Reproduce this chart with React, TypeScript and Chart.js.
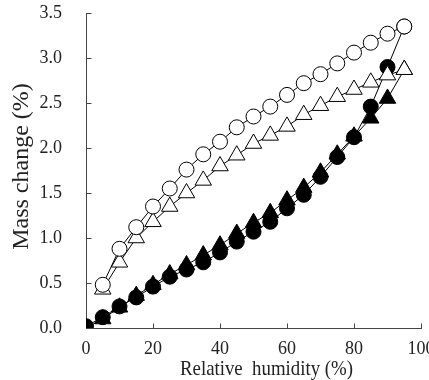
import React, { useEffect, useRef } from "react";
import { Chart, registerables, LinearScale } from "chart.js";

Chart.register(...registerables);

// ---- data ----
const rhSorption = [0, 5, 10, 15, 20, 25, 30, 35, 40, 45, 50, 55, 60, 65, 70, 75, 80, 85, 90, 95];
const filledCircles = [0.02, 0.12, 0.24, 0.34, 0.46, 0.57, 0.65, 0.73, 0.84, 0.96, 1.07, 1.18, 1.33, 1.48, 1.68, 1.9, 2.12, 2.46, 2.9, 3.35];
const filledTriangles = [0.0, 0.1, 0.23, 0.36, 0.48, 0.6, 0.7, 0.81, 0.92, 1.05, 1.17, 1.28, 1.42, 1.56, 1.73, 1.93, 2.13, 2.33, 2.55, 2.87];
const rhDesorption = [5, 10, 15, 20, 25, 30, 35, 40, 45, 50, 55, 60, 65, 70, 75, 80, 85, 90, 95];
const openCircles = [0.48, 0.88, 1.12, 1.35, 1.55, 1.76, 1.93, 2.07, 2.23, 2.35, 2.46, 2.59, 2.72, 2.82, 2.94, 3.06, 3.17, 3.27, 3.35];
const openTriangles = [0.43, 0.73, 1.0, 1.18, 1.35, 1.5, 1.64, 1.8, 1.92, 2.05, 2.14, 2.24, 2.37, 2.47, 2.57, 2.65, 2.73, 2.81, 2.87];
const xTicks = [0, 20, 40, 60, 80, 100];
const yTicks = [0, 0.5, 1.0, 1.5, 2.0, 2.5, 3.0, 3.5];
const xTitle = "Relative  humidity (%)";
const yTitle = "Mass change (%)";

const FONT = "'Liberation Serif', 'Times New Roman', serif";
const AXIS_COLOR = "#444";
const TEXT_COLOR = "#222";

class StyledLinearScale extends (LinearScale as any) {
  static id = "styledLinear";
  static defaults = (LinearScale as any).defaults;
  drawTitle() {
    const self = this as any;
    const ctx = self.ctx as CanvasRenderingContext2D;
    ctx.save();
    if (self.id === "y") {
      ctx.translate(0, -4);
    } else {
      // condense the x title horizontally to the reference's width, shift right
      ctx.font = `21px ${FONT}`;
      const w = ctx.measureText(xTitle).width;
      const sx = Math.min(1, 173 / w);
      const cx = (self.left + self.right) / 2;
      ctx.translate(cx + 13, 2);
      ctx.scale(sx, 1);
      ctx.translate(-cx, 0);
    }
    super.drawTitle();
    ctx.restore();
  }
}
Chart.register(StyledLinearScale as any);

const innerTicks = {
  id: "innerTicks",
  beforeDatasetsDraw(chart: any) {
    const { ctx, scales } = chart;
    const x = scales.x;
    const y = scales.y;
    ctx.save();
    ctx.strokeStyle = AXIS_COLOR;
    ctx.lineWidth = 1;
    ctx.beginPath();
    const left = Math.round(x.left) + 0.5;
    const bottom = Math.round(y.bottom) + 0.5;
    yTicks.forEach((v) => {
      const py = Math.round(y.getPixelForValue(v)) + 0.5;
      ctx.moveTo(left, py);
      ctx.lineTo(left + 5, py);
    });
    xTicks.forEach((v) => {
      const px = Math.round(x.getPixelForValue(v)) + 0.5;
      ctx.moveTo(px, bottom);
      ctx.lineTo(px, bottom - 5);
    });
    ctx.stroke();
    ctx.restore();
  },
};

export default function App() {
  const ref = useRef<HTMLCanvasElement>(null);
  useEffect(() => {
    document.body.style.margin = "0";
    const toXY = (xs: number[], ys: number[]) => xs.map((x, i) => ({ x, y: ys[i] }));
    const chart = new Chart(ref.current!, {
      type: "line",
      data: {
        datasets: [
          {
            label: "open circles",
            data: toXY(rhDesorption, openCircles),
            borderColor: "#000",
            borderWidth: 1,
            pointStyle: "circle",
            pointRadius: 7.5,
            pointBackgroundColor: "#fff",
            pointBorderColor: "#000",
            pointBorderWidth: 1,
            order: 0,
          },
          {
            label: "open triangles",
            data: toXY(rhDesorption, openTriangles),
            borderColor: "#000",
            borderWidth: 1,
            pointStyle: "triangle",
            pointRadius: 9.5,
            pointBackgroundColor: "#fff",
            pointBorderColor: "#000",
            pointBorderWidth: 1,
            order: 1,
          },
          {
            label: "filled circles",
            data: toXY(rhSorption, filledCircles),
            borderColor: "#000",
            borderWidth: 1,
            pointStyle: "circle",
            pointRadius: 7.5,
            pointBackgroundColor: "#000",
            pointBorderColor: "#000",
            pointBorderWidth: 1,
            order: 2,
          },
          {
            label: "filled triangles",
            data: toXY(rhSorption, filledTriangles),
            borderColor: "#000",
            borderWidth: 1,
            pointStyle: "triangle",
            pointRadius: 9.5,
            pointBackgroundColor: "#000",
            pointBorderColor: "#000",
            pointBorderWidth: 1,
            order: 3,
          },
        ],
      },
      options: {
        animation: false,
        responsive: false,
        maintainAspectRatio: false,
        layout: { autoPadding: false, padding: { top: 13, right: 8, left: 0, bottom: 0 } },
        plugins: { legend: { display: false }, tooltip: { enabled: false } },
        elements: { line: { tension: 0 } },
        scales: {
          x: {
            type: "styledLinear" as any,
            min: 0,
            max: 100,
            afterBuildTicks: (s: any) => {
              s.ticks = xTicks.map((v) => ({ value: v }));
            },
            afterFit: (s: any) => {
              s.height = 52;
              s.paddingLeft = 0;
              s.paddingRight = 0;
            },
            grid: { display: false, drawTicks: false },
            border: { display: true, color: AXIS_COLOR, width: 1 },
            ticks: {
              padding: 10,
              maxRotation: 0,
              autoSkip: false,
              color: TEXT_COLOR,
              font: { family: FONT, size: 18 },
              callback: (v: any) => String(v),
            },
            title: {
              display: true,
              text: xTitle,
              color: TEXT_COLOR,
              font: { family: FONT, size: 21 },
              padding: { top: 0, bottom: 0 },
            },
          },
          y: {
            type: "styledLinear" as any,
            min: 0,
            max: 3.5,
            afterBuildTicks: (s: any) => {
              s.ticks = yTicks.map((v) => ({ value: v }));
            },
            afterFit: (s: any) => {
              s.width = 86;
              s.paddingTop = 0;
              s.paddingBottom = 0;
            },
            grid: { display: false, drawTicks: false },
            border: { display: true, color: AXIS_COLOR, width: 1 },
            ticks: {
              padding: 24,
              autoSkip: false,
              color: TEXT_COLOR,
              font: { family: FONT, size: 18 },
              callback: (v: any) => Number(v).toFixed(1),
            },
            title: {
              display: true,
              text: yTitle,
              color: TEXT_COLOR,
              font: { family: FONT, size: 24 },
              padding: { top: 7, bottom: 0 },
            },
          },
        },
      },
      plugins: [innerTicks],
    });
    return () => chart.destroy();
  }, []);
  return (
    <div style={{ width: 429, height: 380 }}>
      <canvas ref={ref} width={429} height={380} style={{ display: "block", width: 429, height: 380 }} />
    </div>
  );
}
